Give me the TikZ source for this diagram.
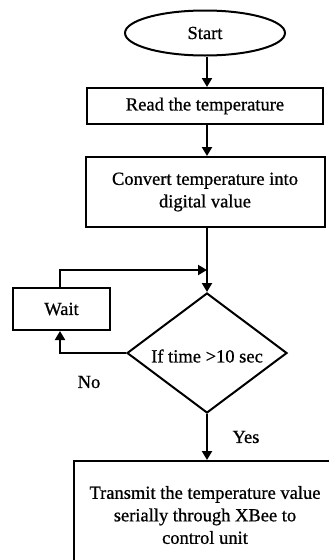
\documentclass[tikz,border=0pt]{standalone}
\usepackage{fontspec}
\setmainfont[FakeBold=0.8]{Liberation Serif}
\usetikzlibrary{shapes.geometric,arrows.meta}
\begin{document}
\begin{tikzpicture}[x=1pt,y=-1pt,
  every node/.style={font=\fontsize{18.5}{22.5}\selectfont, inner sep=0pt},
  box/.style={draw, line width=2pt, rectangle, align=center},
  conn/.style={line width=2pt, -{Triangle[length=9pt,width=10pt]}}]
\useasboundingbox (0,0) rectangle (329,560);
\clip (0,0) rectangle (329,560);
\node[draw, line width=2pt, ellipse, minimum width=160pt, minimum height=45pt] (start) at (205,33) {Start};
\node[box, minimum width=236pt, minimum height=36pt] (read) at (205,106) {Read the temperature};
\node[box, minimum width=239pt, minimum height=70pt] (conv) at (205,192) {Convert temperature into\\digital value};
\node[draw, line width=2pt, diamond, aspect=1.333, minimum width=160pt, minimum height=120pt] (dec) at (207,353) {};
\node at (207,356) {If time >10 sec};
\node[box, minimum width=97pt, minimum height=42pt] (wait) at (61.5,309) {Wait};
\node[box, minimum width=270pt, minimum height=130pt, anchor=north west] (tx) at (73,460) {};
\node[align=center] (txt) at (205,515) {Transmit the temperature value\\serially through XBee to\\control unit};
\node (no) at (89,382) {No};
\node (yes) at (246,437) {Yes};
\coordinate (j) at (207,270);
\draw[conn] (start.south -| 207,0) -- (read.north -| 207,0);
\draw[conn] (read.south -| 207,0) -- (conv.north -| 207,0);
\draw[conn] (conv.south -| 207,0) -- (dec.north);
\draw[conn] (dec.west) -| (wait.south -| 60,0);
\draw[conn] (wait.north -| 60,0) |- (j);
\draw[conn] (dec.south) -- (tx.north -| 207,0);
\end{tikzpicture}
\end{document}
